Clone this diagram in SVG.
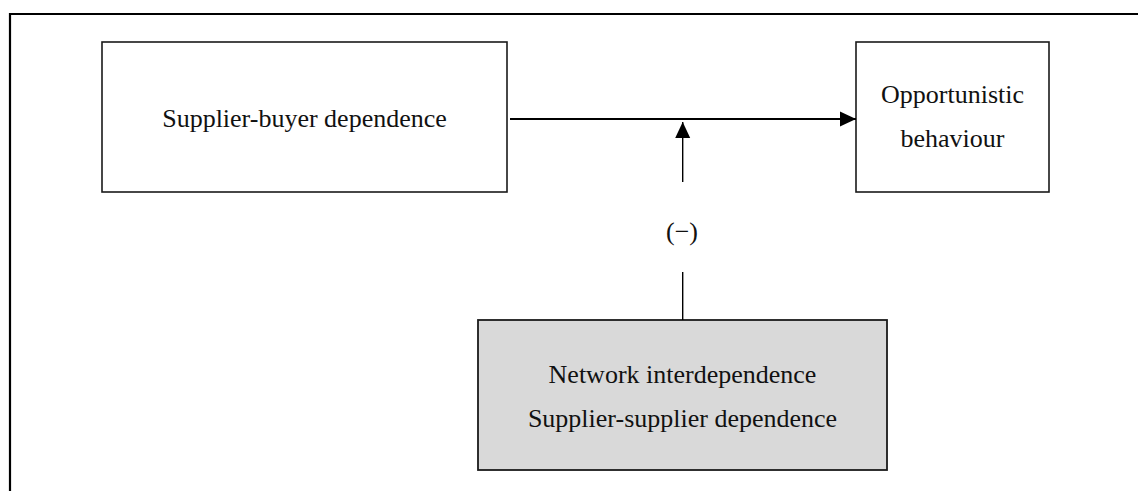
<svg xmlns="http://www.w3.org/2000/svg" width="1138" height="491" viewBox="0 0 1138 491">
  <style>
    .box { fill: #ffffff; stroke: #1a1a1a; stroke-width: 1.6; }
    .shaded { fill: #d9d9d9; stroke: #1a1a1a; stroke-width: 1.8; }
    .label { font-family: "Liberation Serif", "Times New Roman", serif; font-size: 26px; fill: #111111; text-anchor: middle; }
    .link { stroke: #000000; fill: none; }
  </style>
  <defs>
    <marker id="head" markerUnits="userSpaceOnUse" markerWidth="16" markerHeight="16" viewBox="0 0 16 16" refX="16" refY="8" orient="auto">
      <path d="M0,0.5 L16,8 L0,15.5 Z" fill="#000000"/>
    </marker>
  </defs>

  <rect width="1138" height="491" fill="#ffffff"/>

  <!-- outer frame: top and left rules -->
  <path d="M10,491 V14 H1138" fill="none" stroke="#000000" stroke-width="2.2"/>

  <g id="supplier-buyer">
    <rect class="box" x="102" y="42" width="405" height="150"/>
    <text class="label" x="304.5" y="127">Supplier-buyer dependence</text>
  </g>

  <g id="opportunistic">
    <rect class="box" x="856" y="42" width="193" height="150"/>
    <text class="label" x="952.5" y="103">Opportunistic</text>
    <text class="label" x="952.5" y="147">behaviour</text>
  </g>

  <g id="network">
    <rect class="shaded" x="478" y="320" width="409" height="150"/>
    <text class="label" x="682.5" y="383">Network interdependence</text>
    <text class="label" x="682.5" y="427">Supplier-supplier dependence</text>
  </g>

  <g id="connectors">
    <line class="link" x1="510" y1="119" x2="856" y2="119" stroke-width="2" marker-end="url(#head)"/>
    <line class="link" x1="682.7" y1="182" x2="682.7" y2="122" stroke-width="1.4" marker-end="url(#head)"/>
    <line class="link" x1="682.7" y1="272" x2="682.7" y2="320" stroke-width="1.4"/>
    <text class="label" x="682" y="240">(−)</text>
  </g>
</svg>
